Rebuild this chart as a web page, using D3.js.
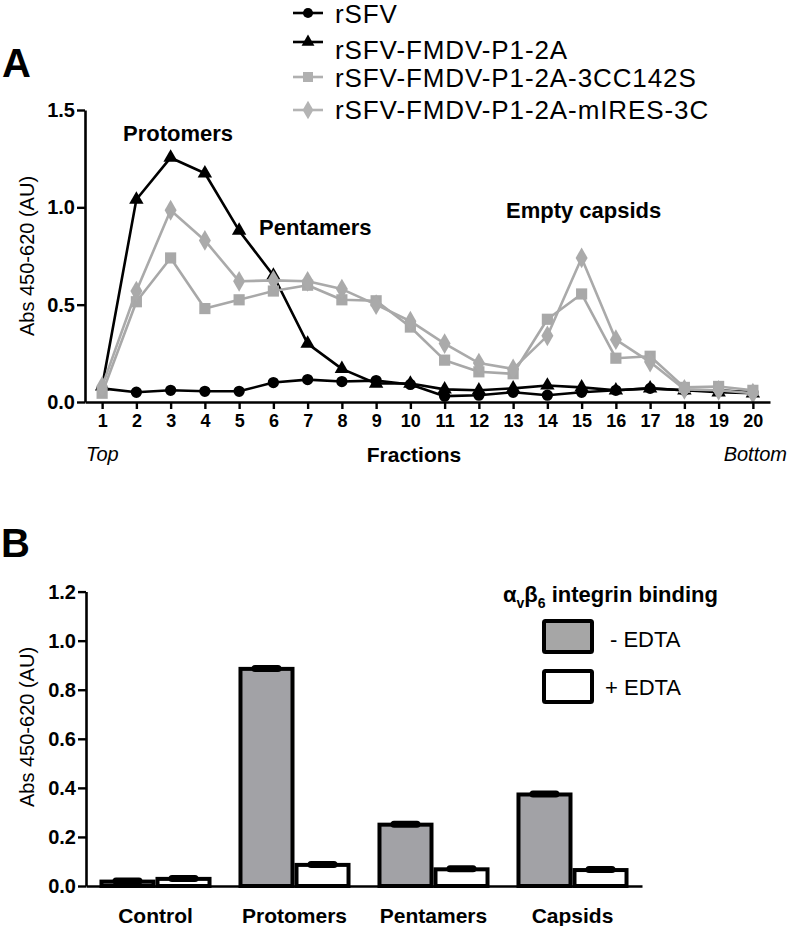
<!DOCTYPE html>
<html><head><meta charset="utf-8">
<script src="https://cdn.jsdelivr.net/npm/d3@7"></script>
<style>
html,body{margin:0;padding:0;background:#fff;}
svg{display:block;font-family:"Liberation Sans",Arial,Helvetica,sans-serif;}
</style></head>
<body>
<svg id="c" width="793" height="926"></svg>
<script>
// ---------- Panel A data ----------
const fractions = [1,2,3,4,5,6,7,8,9,10,11,12,13,14,15,16,17,18,19,20];
const rSFV      = [0.07,0.05,0.06,0.055,0.055,0.10,0.115,0.105,0.11,0.09,0.03,0.035,0.05,0.035,0.05,0.06,0.07,0.06,0.06,0.05];
const rSFV_P12A = [0.08,1.04,1.255,1.175,0.88,0.65,0.30,0.17,0.095,0.095,0.065,0.06,0.07,0.085,0.075,0.06,0.07,0.06,0.05,0.045];
const rSFV_C142S= [0.045,0.515,0.74,0.48,0.525,0.57,0.60,0.525,0.52,0.385,0.215,0.155,0.145,0.425,0.555,0.225,0.235,0.075,0.08,0.06];
const rSFV_mIRES= [0.08,0.57,0.985,0.83,0.62,0.625,0.62,0.58,0.50,0.415,0.30,0.20,0.17,0.34,0.74,0.32,0.205,0.065,0.06,0.045];
const seriesNames = ["rSFV","rSFV-FMDV-P1-2A","rSFV-FMDV-P1-2A-3CC142S","rSFV-FMDV-P1-2A-mIRES-3C"];
const yTicksA = [0,0.5,1.0,1.5];

// ---------- Panel B data ----------
const categories = ["Control","Protomers","Pentamers","Capsids"];
const minusEDTA = [0.018,0.885,0.25,0.373];
const plusEDTA  = [0.029,0.086,0.068,0.065];
const minusErr  = [0.004,0.008,0.01,0.007];
const plusErr   = [0.004,0.004,0.004,0.004];
const yTicksB = [0,0.2,0.4,0.6,0.8,1.0,1.2];

const svg = d3.select("#c");
const black = "#000", gray1 = "#a8a8a8", gray2 = "#aaaaaa";

// ================= Panel A =================
const xA = d3.scaleLinear().domain([0.5,20.5]).range([85,770]);
const yA = d3.scaleLinear().domain([0,1.5]).range([402,110]);

svg.append("text").attr("x",2).attr("y",77).attr("font-size",40).attr("font-weight","bold").text("A");

const series = [
  {name:seriesNames[0], vals:rSFV,       color:black, sym:d3.symbolCircle,   size:100},
  {name:seriesNames[1], vals:rSFV_P12A,  color:black, sym:d3.symbolTriangle, size:90},
  {name:seriesNames[2], vals:rSFV_C142S, color:gray1, sym:d3.symbolSquare,   size:125},
  {name:seriesNames[3], vals:rSFV_mIRES, color:gray2, sym:d3.symbolDiamond,  size:125}
];

const line = d3.line().x((d,i)=>xA(fractions[i])).y(d=>yA(d));
const gA = svg.append("g");
series.forEach(s=>{
  gA.append("path").attr("d",line(s.vals)).attr("fill","none").attr("stroke",s.color).attr("stroke-width",2.6).attr("stroke-linejoin","round");
  gA.selectAll(null).data(s.vals).enter().append("path")
    .attr("d",d3.symbol().type(s.sym).size(s.size))
    .attr("transform",(d,i)=>`translate(${xA(fractions[i])},${yA(d)})`)
    .attr("fill",s.color);
});

// axes A
const axYA = svg.append("g").attr("transform","translate(85,0)")
  .call(d3.axisLeft(yA).tickValues(yTicksA).tickFormat(d3.format(".1f")).tickSize(8).tickSizeOuter(0));
const axXA = svg.append("g").attr("transform","translate(0,402)")
  .call(d3.axisBottom(xA).tickValues(fractions).tickFormat(d3.format("d")).tickSize(7).tickSizeOuter(0));
[axYA,axXA].forEach(a=>{
  a.select(".domain").attr("stroke-width",2.6);
  a.selectAll(".tick line").attr("stroke-width",2.4);
  a.selectAll("text").attr("font-family",'"Liberation Sans",Arial,sans-serif').attr("font-weight","bold").attr("fill","#000");
});
axYA.selectAll("text").attr("font-size",20).attr("x",-10);
axXA.selectAll("text").attr("font-size",18).attr("y",12);

svg.append("text").attr("transform","translate(34,256) rotate(-90)").attr("text-anchor","middle")
  .attr("font-size",20).text("Abs 450-620 (AU)");

svg.append("text").attr("x",86).attr("y",461).attr("font-size",20).attr("font-style","italic").text("Top");
svg.append("text").attr("x",414).attr("y",462).attr("text-anchor","middle").attr("font-size",21).attr("font-weight","bold").text("Fractions");
svg.append("text").attr("x",787).attr("y",461).attr("text-anchor","end").attr("font-size",20).attr("font-style","italic").text("Bottom");

svg.append("text").attr("x",123).attr("y",141).attr("font-size",22).attr("font-weight","bold").text("Protomers");
svg.append("text").attr("x",259).attr("y",235).attr("font-size",22).attr("font-weight","bold").text("Pentamers");
svg.append("text").attr("x",506).attr("y",218).attr("font-size",22).attr("font-weight","bold").text("Empty capsids");

// legend A
const legY = [13,42,77,110], legTY = [23,59,87,119];
const legColors = [black,black,"#b0b0b0","#b4b4b4"];
series.forEach((s,i)=>{
  const g = svg.append("g");
  g.append("line").attr("x1",293).attr("x2",323).attr("y1",legY[i]).attr("y2",legY[i]).attr("stroke",legColors[i]).attr("stroke-width",2.6);
  g.append("path").attr("d",d3.symbol().type(s.sym).size(s.size*0.8)).attr("transform",`translate(308,${legY[i]})`).attr("fill",legColors[i]);
  g.append("text").attr("x",335).attr("y",legTY[i]).attr("font-size",26).attr("letter-spacing",0.9).attr("fill","#000").text(s.name);
});

// ================= Panel B =================
svg.append("text").attr("x",1).attr("y",557).attr("font-size",40).attr("font-weight","bold").text("B");

const yB = d3.scaleLinear().domain([0,1.2]).range([886,591.6]);
const xB = d3.scaleBand().domain(categories).range([86,642]).paddingInner(0.194).paddingOuter(0.097);
const keys = ["minus","plus"];
const xIn = d3.scaleBand().domain(keys).range([0,xB.bandwidth()]).padding(0);

const rows = categories.map((c,i)=>({cat:c, vals:[
  {k:"minus", v:minusEDTA[i], e:minusErr[i], fill:"#a2a2a6"},
  {k:"plus",  v:plusEDTA[i],  e:plusErr[i],  fill:"#fff"}
]}));

const gB = svg.append("g");
const grp = gB.selectAll("g.grp").data(rows).enter().append("g").attr("transform",d=>`translate(${xB(d.cat)},0)`);
grp.selectAll("rect.bar").data(d=>d.vals).enter().append("rect")
  .attr("x",d=>xIn(d.k)+2).attr("width",xIn.bandwidth()-4)
  .attr("y",d=>yB(d.v)).attr("height",d=>yB(0)-yB(d.v))
  .attr("fill",d=>d.fill).attr("stroke","#000").attr("stroke-width",4);
grp.selectAll("rect.err").data(d=>d.vals).enter().append("rect")
  .attr("x",d=>xIn(d.k)+xIn.bandwidth()/2-15).attr("width",30)
  .attr("y",d=>Math.min(yB(d.v+d.e), yB(d.v)-4)).attr("height",d=>Math.max(yB(d.v-d.e)-yB(d.v+d.e),7))
  .attr("rx",3.5).attr("fill","#000");

const axYB = svg.append("g").attr("transform","translate(86,0)")
  .call(d3.axisLeft(yB).tickValues(yTicksB).tickFormat(d3.format(".1f")).tickSize(8).tickSizeOuter(0));
const axXB = svg.append("g").attr("transform","translate(0,886)")
  .call(d3.axisBottom(xB).tickSize(0).tickSizeOuter(0));
[axYB,axXB].forEach(a=>{
  a.select(".domain").attr("stroke-width",2.6);
  a.selectAll(".tick line").attr("stroke-width",2.4);
  a.selectAll("text").attr("font-family",'"Liberation Sans",Arial,sans-serif').attr("font-weight","bold").attr("fill","#000");
});
axYB.selectAll("text").attr("font-size",20).attr("x",-10);
axXB.selectAll("text").attr("font-size",21).attr("y",22);

svg.append("text").attr("transform","translate(34,727) rotate(-90)").attr("text-anchor","middle")
  .attr("font-size",20).text("Abs 450-620 (AU)");

// legend B
const lt = svg.append("text").attr("x",503).attr("y",602).attr("font-size",22).attr("font-weight","bold");
lt.append("tspan").text("α");
lt.append("tspan").attr("font-size",14).attr("dy",6).text("v");
lt.append("tspan").attr("dy",-6).text("β");
lt.append("tspan").attr("font-size",14).attr("dy",6).text("6");
lt.append("tspan").attr("dy",-6).text(" integrin binding");

svg.append("rect").attr("x",544).attr("y",621).attr("width",48).attr("height",31).attr("fill","#a6a6a6").attr("stroke","#000").attr("stroke-width",4).attr("rx",1.5);
svg.append("rect").attr("x",544).attr("y",671).attr("width",48).attr("height",31).attr("fill","#fff").attr("stroke","#000").attr("stroke-width",4).attr("rx",1.5);
svg.append("text").attr("x",610).attr("y",647).attr("font-size",22).text("- EDTA");
svg.append("text").attr("x",605).attr("y",695).attr("font-size",22).text("+ EDTA");
</script>
</body></html>
